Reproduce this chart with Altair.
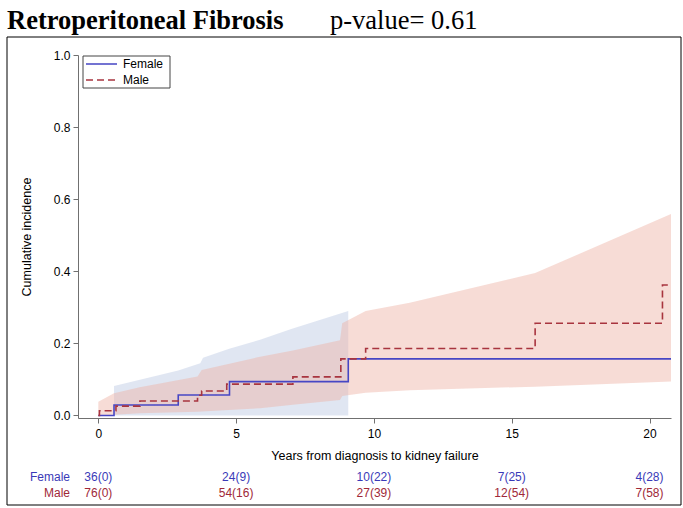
import altair as alt
import pandas as pd

# ---- data ----
f_time = [0.0, 0.57, 2.9, 4.76, 9.07, 20.78]
f_cif = [0.0, 0.029, 0.057, 0.094, 0.157, 0.157]

m_time = [0.0, 0.04, 0.64, 1.51, 3.6, 3.75, 4.66, 7.06, 8.8, 9.7, 15.85, 20.47, 20.69]
m_cif = [0.0, 0.013, 0.026, 0.040, 0.056, 0.068, 0.087, 0.107, 0.157, 0.186, 0.256, 0.362, 0.362]

f_band_t = [0.57, 2.9, 3.7, 3.8, 4.75, 5.87, 7.0, 9.07]
f_band_lo = [0.0, 0.0, 0.0, 0.0, 0.0, 0.0, 0.0, 0.0]
f_band_hi = [0.082, 0.125, 0.145, 0.16, 0.185, 0.21, 0.24, 0.29]

m_band_t = [0.0, 0.57, 1.5, 3.6, 3.75, 5.87, 7.06, 8.77, 8.85, 9.7, 11.3, 15.85, 20.78]
m_band_lo = [0.0, 0.002, 0.006, 0.010, 0.011, 0.020, 0.030, 0.043, 0.054, 0.063, 0.070, 0.080, 0.094]
m_band_hi = [0.038, 0.062, 0.078, 0.108, 0.126, 0.163, 0.180, 0.209, 0.256, 0.290, 0.313, 0.395, 0.559]

risk_t = [0, 5, 10, 15, 20]
risk_female = ["36(0)", "24(9)", "10(22)", "7(25)", "4(28)"]
risk_male = ["76(0)", "54(16)", "27(39)", "12(54)", "7(58)"]

groups = ["Female", "Male"]
title_main = "Retroperitoneal Fibrosis"
title_p = "p-value= 0.61"

# ---- styling ----
BLUE = "#4646c4"
RED = "#a8343f"
BLUE_TXT = "#3a3ab8"
RED_TXT = "#a02838"
FONT = "Liberation Sans"

W, H = 593, 363
PAD_L, PAD_T = 78, 55

lines = pd.concat([
    pd.DataFrame({"t": f_time, "cif": f_cif, "g": "Female"}),
    pd.DataFrame({"t": m_time, "cif": m_cif, "g": "Male"}),
])
fband = pd.DataFrame({"t": f_band_t, "lo": f_band_lo, "hi": f_band_hi})
mband = pd.DataFrame({"t": m_band_t, "lo": m_band_lo, "hi": m_band_hi})

xscale = alt.Scale(domain=[-0.737, 20.78], nice=False, zero=False)
yscale = alt.Scale(domain=[-0.007, 1.0], nice=False, zero=False)

xaxis = alt.Axis(values=[0, 5, 10, 15, 20], title="Years from diagnosis to kidney failure",
                 labelFlush=False, tickSize=5, labelPadding=5, titlePadding=10)
yaxis = alt.Axis(values=[0, 0.2, 0.4, 0.6, 0.8, 1.0], format=".1f", title="Cumulative incidence",
                 tickSize=5, labelPadding=3, titlePadding=20)

band_f = alt.Chart(fband).mark_area(color="#bac7e2", opacity=0.45).encode(
    x=alt.X("t:Q", scale=xscale, axis=xaxis),
    y=alt.Y("lo:Q", scale=yscale, axis=yaxis),
    y2="hi:Q",
)
band_m = alt.Chart(mband).mark_area(color="#edb1a4", opacity=0.45).encode(
    x=alt.X("t:Q", scale=xscale),
    y=alt.Y("lo:Q", scale=yscale),
    y2="hi:Q",
)

line = alt.Chart(lines).mark_line(interpolate="step-after", strokeWidth=1.6).encode(
    x=alt.X("t:Q", scale=xscale),
    y=alt.Y("cif:Q", scale=yscale),
    color=alt.Color("g:N", scale=alt.Scale(domain=groups, range=[BLUE, RED]), legend=None),
    strokeDash=alt.StrokeDash("g:N", scale=alt.Scale(domain=groups, range=[[1, 0], [7, 4]]),
                              legend=None),
    order=alt.Order("t:Q"),
)

# legend drawn by hand (box, sample strokes, labels)
leg_df = pd.DataFrame({"g": groups, "ly": [9, 25]})
leg_box = alt.Chart(pd.DataFrame({"a": [0]})).mark_rect(
    filled=True, fill="white", stroke="#444", strokeWidth=1).encode(
    x=alt.value(5), x2=alt.value(92), y=alt.value(1), y2=alt.value(33))
leg_line = alt.Chart(leg_df).mark_rule(strokeWidth=1.6).encode(
    x=alt.value(8), x2=alt.value(39), y=alt.Y("ly:Q", scale=None),
    color=alt.Color("g:N", scale=alt.Scale(domain=groups, range=[BLUE, RED]), legend=None),
    strokeDash=alt.StrokeDash("g:N", scale=alt.Scale(domain=groups, range=[[1, 0], [7, 4]]),
                              legend=None),
)
leg_text = alt.Chart(leg_df).mark_text(font=FONT, fontSize=12, align="left", baseline="middle",
                                       color="black").encode(
    x=alt.value(45), y=alt.Y("ly:Q", scale=None), text="g:N")

risk_df = pd.DataFrame({"t": risk_t, "f": risk_female, "m": risk_male})
risk_f = alt.Chart(risk_df).mark_text(color=BLUE_TXT, font=FONT, fontSize=12, baseline="middle").encode(
    x=alt.X("t:Q", scale=xscale), y=alt.value(422), text="f:N")
risk_m = alt.Chart(risk_df).mark_text(color=RED_TXT, font=FONT, fontSize=12, baseline="middle").encode(
    x=alt.X("t:Q", scale=xscale), y=alt.value(438), text="m:N")

lab_df = pd.DataFrame({"lab": groups, "yy": [422, 438], "c": [BLUE_TXT, RED_TXT]})
risk_lab = alt.Chart(lab_df).mark_text(font=FONT, fontSize=12, align="right", baseline="middle").encode(
    x=alt.value(-8), y=alt.Y("yy:Q", scale=None), text="lab:N",
    color=alt.Color("c:N", scale=None, legend=None))

one = pd.DataFrame({"a": [title_main], "b": [title_p]})
t1 = alt.Chart(one).mark_text(font="Liberation Serif", fontSize=26.5, fontWeight="bold",
                              align="left", baseline="alphabetic", color="black").encode(
    x=alt.value(-71), y=alt.value(-26), text="a:N")
t2 = alt.Chart(one).mark_text(font="Liberation Serif", fontSize=26.5,
                              align="left", baseline="alphabetic", color="black").encode(
    x=alt.value(252), y=alt.value(-26), text="b:N")
frame = alt.Chart(one).mark_rect(filled=False, stroke="black", strokeWidth=1).encode(
    x=alt.value(-71), x2=alt.value(603), y=alt.value(-18), y2=alt.value(450))

chart = alt.layer(band_f, band_m, line, leg_box, leg_line, leg_text,
                  risk_f, risk_m, risk_lab, t1, t2, frame).properties(
    width=W, height=H,
    autosize=alt.AutoSizeParams(type="none"),
    padding={"left": PAD_L, "top": PAD_T, "right": 683 - PAD_L - W, "bottom": 508 - PAD_T - H},
    background="white",
).resolve_scale(color="independent", strokeDash="independent").configure_view(
    stroke=None).configure_axis(
    grid=False, domainColor="#707070", tickColor="#707070", labelFont=FONT, titleFont=FONT,
    labelFontSize=12, titleFontSize=12.5, titleFontWeight="normal", labelColor="black",
    titleColor="black",
)

chart.save("out.html", embed_options={"renderer": "svg", "actions": False})
